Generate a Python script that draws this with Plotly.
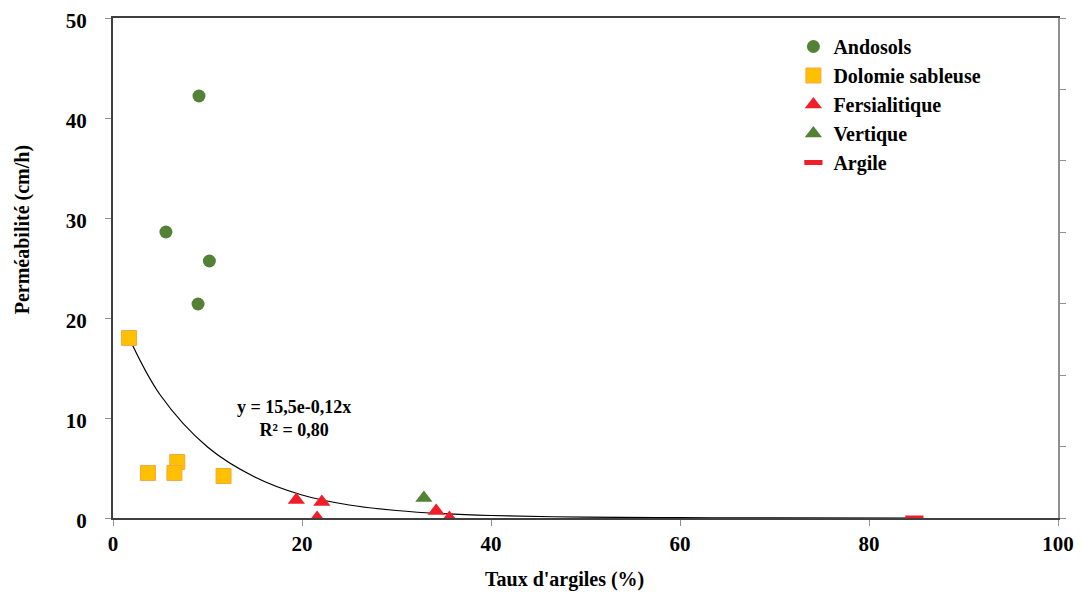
import plotly.graph_objects as go

# ---- data ----
andosols_x = [9.1, 5.6, 10.2, 9.0]
andosols_y = [42.2, 28.6, 25.7, 21.4]

dolomie_x = [1.7, 3.7, 6.8, 6.5, 11.7]
dolomie_y = [18.0, 4.5, 5.6, 4.5, 4.2]

fersial_x = [19.4, 22.1, 21.6, 34.2, 35.6]
fersial_y = [1.8, 1.6, 0.0, 0.7, 0.0]

vertique_x = [32.9]
vertique_y = [2.0]

argile_x = [84.8]
argile_y = [0.0]

# trendline
trend_x = [1.7, 5, 10, 15, 20, 25, 30, 35, 40, 50, 60, 70, 85]
trend_y = [18.0, 12.3, 7.1, 4.1, 2.3, 1.3, 0.75, 0.43, 0.25, 0.08, 0.03, 0.01, 0.0]

equation_text = "<b>y = 15,5e-0,12x<br>R² = 0,80</b>"
x_title = "<b>Taux d'argiles (%)</b>"
y_title = "<b>Perméabilité (cm/h)</b>"

FONT = "Liberation Serif"
GREEN = "#538135"
YELLOW = "#FFC000"
ORANGE = "#F4A742"
RED = "#F01E28"

fig = go.Figure()

fig.add_trace(go.Scatter(x=trend_x, y=trend_y, mode="lines", line=dict(color="black", width=1.2, shape="spline"),
                         showlegend=False, hoverinfo="skip"))
fig.add_trace(go.Scatter(x=andosols_x, y=andosols_y, mode="markers", name="Andosols",
                         marker=dict(symbol="circle", size=13, color=GREEN, line=dict(width=0))))
fig.add_trace(go.Scatter(x=dolomie_x, y=dolomie_y, mode="markers", name="Dolomie sableuse",
                         marker=dict(symbol="square", size=15, color=YELLOW, line=dict(width=1, color=ORANGE))))
fig.add_trace(go.Scatter(x=fersial_x, y=fersial_y, mode="markers", name="Fersialitique",
                         marker=dict(symbol="triangle-up", size=15, color=RED, line=dict(width=0))))
fig.add_trace(go.Scatter(x=vertique_x, y=vertique_y, mode="markers", name="Vertique",
                         marker=dict(symbol="triangle-up", size=15, color=GREEN, line=dict(width=0))))
fig.add_trace(go.Scatter(x=argile_x, y=argile_y, mode="markers", name="Argile",
                         marker=dict(symbol="line-ew", size=13, color=RED, line=dict(width=5, color=RED))))
# dummy trace for the secondary (right) axis
fig.add_trace(go.Scatter(x=[None], y=[None], yaxis="y2", showlegend=False, hoverinfo="skip"))

fig.add_annotation(x=19.2, y=10.0, xref="x", yref="y", text=equation_text, showarrow=False,
                   font=dict(family=FONT, size=18, color="black"), align="center")

# axis titles as annotations (fixed positions)
fig.add_annotation(x=0.478, y=-0.122, xref="paper", yref="paper", xanchor="center", yanchor="middle",
                   text=x_title, showarrow=False, font=dict(family=FONT, size=20, color="black"))
fig.add_annotation(x=-0.096, y=0.576, xref="paper", yref="paper", xanchor="center", yanchor="middle",
                   text=y_title, textangle=-90, showarrow=False, font=dict(family=FONT, size=20, color="black"))

fig.update_layout(
    width=1074, height=585,
    margin=dict(l=105, r=24, t=10, b=75, autoexpand=False),
    plot_bgcolor="white", paper_bgcolor="white",
    font=dict(family=FONT, color="black"),
    xaxis=dict(range=[0, 100], dtick=20, showgrid=False, zeroline=False, automargin=False,
               showline=True, linecolor="#404040", linewidth=2, mirror=True,
               ticks="outside", ticklen=6, tickcolor="#909090", ticklabelstandoff=0,
               ticklabeloverflow="allow",
               tickfont=dict(family=FONT, size=21, color="black", weight="bold")),
    yaxis=dict(range=[0, 50], tickvals=[0, 10, 20, 30, 40, 50], showgrid=False, zeroline=False, automargin=False,
               showline=True, linecolor="#404040", linewidth=2,
               ticks="outside", ticklen=6, tickcolor="#909090", ticklabelstandoff=14,
               ticklabeloverflow="allow", ticklabelshift=3,
               tickfont=dict(family=FONT, size=21, color="black", weight="bold")),
    yaxis2=dict(range=[0, 7], dtick=1, overlaying="y", side="right", showgrid=False, zeroline=False,
                showline=True, linecolor="#909090", linewidth=2, ticks="outside", ticklen=6,
                tickcolor="#909090", showticklabels=False, automargin=False),
    legend=dict(x=0.72, y=0.982, xanchor="left", yanchor="top", bgcolor="rgba(0,0,0,0)",
                font=dict(family=FONT, size=20, color="black", weight="bold"), itemwidth=30,
                tracegroupgap=0),
)

fig.write_html("out.html")
